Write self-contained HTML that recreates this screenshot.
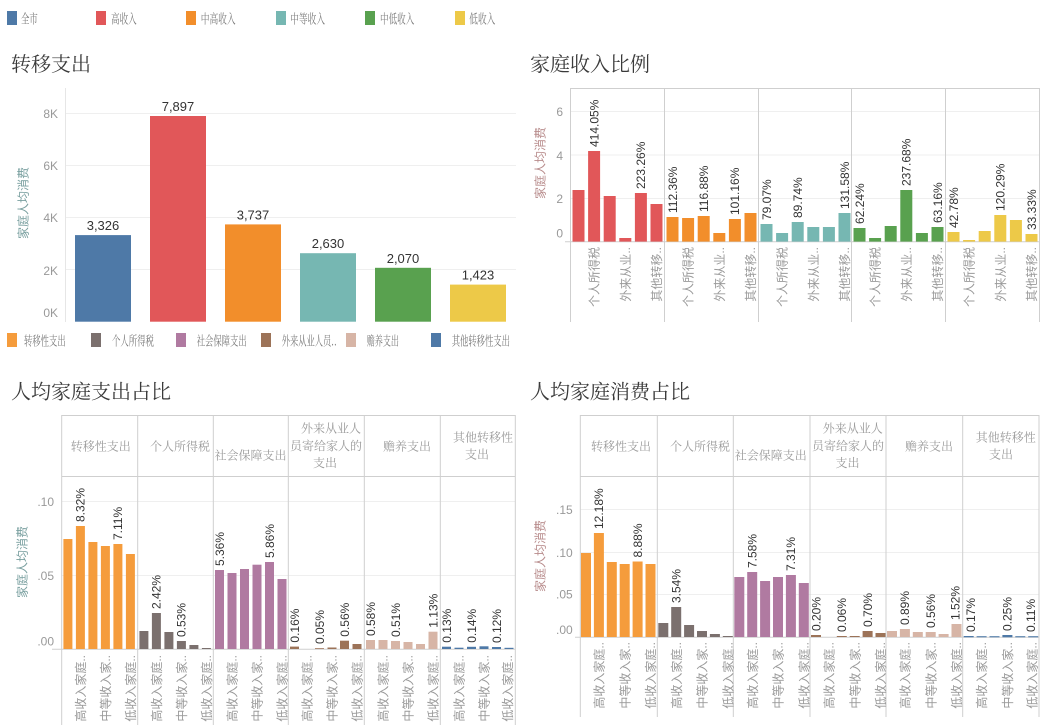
<!DOCTYPE html>
<html><head><meta charset="utf-8">
<style>
html,body{margin:0;padding:0;background:#fff;}
svg{display:block;}
.ttl{font-family:"Noto Serif CJK SC","Liberation Serif",serif;font-size:20px;fill:#3a3a3a;}
.lg{font-family:"Noto Serif CJK SC","Liberation Serif",serif;font-size:13px;fill:#777;}
.hd{font-family:"Noto Serif CJK SC","Liberation Serif",serif;font-size:12px;fill:#9a9a9a;}
.tk{font-family:"Liberation Sans",sans-serif;font-size:12px;fill:#999;}
.vl{font-family:"Liberation Sans",sans-serif;font-size:13px;fill:#333;}
.bl{font-family:"Liberation Sans",sans-serif;font-size:12px;fill:#333;}
.cat{font-family:"Liberation Sans","Noto Sans CJK SC",sans-serif;font-size:12px;fill:#9a9a9a;}
.yt1{font-family:"Liberation Sans","Noto Sans CJK SC",sans-serif;font-size:12px;fill:#7aa0a0;}
.yt2{font-family:"Liberation Sans","Noto Sans CJK SC",sans-serif;font-size:12px;fill:#b88c8c;}
</style></head>
<body>
<svg width="1048" height="725" viewBox="0 0 1048 725" xmlns="http://www.w3.org/2000/svg">
<rect width="1048" height="725" fill="#fff"/>

<!-- top legend -->
<rect x="7" y="11" width="10" height="14" fill="#4e79a7"/><text class="lg" x="21" y="23.5" textLength="16.7" lengthAdjust="spacingAndGlyphs">全市</text>
<rect x="96" y="11" width="10" height="14" fill="#e15759"/><text class="lg" x="111" y="23.5" textLength="25.7" lengthAdjust="spacingAndGlyphs">高收入</text>
<rect x="186" y="11" width="10" height="14" fill="#f28e2b"/><text class="lg" x="200.7" y="23.5" textLength="35" lengthAdjust="spacingAndGlyphs">中高收入</text>
<rect x="276" y="11" width="10" height="14" fill="#76b7b2"/><text class="lg" x="290.3" y="23.5" textLength="34.7" lengthAdjust="spacingAndGlyphs">中等收入</text>
<rect x="365" y="11" width="10" height="14" fill="#59a14f"/><text class="lg" x="380" y="23.5" textLength="34.3" lengthAdjust="spacingAndGlyphs">中低收入</text>
<rect x="455" y="11" width="10" height="14" fill="#edc948"/><text class="lg" x="469.3" y="23.5" textLength="26" lengthAdjust="spacingAndGlyphs">低收入</text>

<!-- ============ top-left: 转移支出 ============ -->
<text class="ttl" x="11" y="71">转移支出</text>
<g stroke="#efefef" stroke-width="1">
<line x1="65" y1="113.5" x2="516" y2="113.5"/>
<line x1="65" y1="165.5" x2="516" y2="165.5"/>
<line x1="65" y1="217.5" x2="516" y2="217.5"/>
<line x1="65" y1="269.5" x2="516" y2="269.5"/>
</g>
<line x1="65.5" y1="88" x2="65.5" y2="322" stroke="#e6e6e6"/>
<g class="tk" text-anchor="end">
<text x="58" y="118">8K</text>
<text x="58" y="170">6K</text>
<text x="58" y="222">4K</text>
<text x="58" y="275">2K</text>
<text x="58" y="317">0K</text>
</g>
<text class="yt1" transform="translate(27.5,203) rotate(-90)" text-anchor="middle">家庭人均消费</text>
<rect x="75" y="235.1" width="56" height="86.6" fill="#4e79a7"/>
<rect x="150" y="116" width="56" height="205.7" fill="#e15759"/>
<rect x="225" y="224.4" width="56" height="97.3" fill="#f28e2b"/>
<rect x="300" y="253.2" width="56" height="68.5" fill="#76b7b2"/>
<rect x="375" y="267.8" width="56" height="53.9" fill="#59a14f"/>
<rect x="450" y="284.6" width="56" height="37.1" fill="#edc948"/>
<g class="vl" text-anchor="middle">
<text x="103" y="230">3,326</text>
<text x="178" y="111">7,897</text>
<text x="253" y="219.4">3,737</text>
<text x="328" y="248.2">2,630</text>
<text x="403" y="262.8">2,070</text>
<text x="478" y="279.6">1,423</text>
</g>

<!-- ============ top-right: 家庭收入比例 ============ -->
<text class="ttl" x="530" y="71">家庭收入比例</text>
<g stroke="#efefef">
<line x1="570.5" y1="111.5" x2="1039" y2="111.5"/>
<line x1="570.5" y1="155" x2="1039" y2="155"/>
<line x1="570.5" y1="198.5" x2="1039" y2="198.5"/>
</g>
<g stroke="#cfcfcf">
<line x1="570.5" y1="88" x2="570.5" y2="322"/>
<line x1="570.5" y1="88.5" x2="1039.5" y2="88.5"/>
<line x1="664.5" y1="88" x2="664.5" y2="322"/>
<line x1="758.5" y1="88" x2="758.5" y2="322"/>
<line x1="851.5" y1="88" x2="851.5" y2="322"/>
<line x1="945.5" y1="88" x2="945.5" y2="322"/>
<line x1="1039.5" y1="88" x2="1039.5" y2="322"/>
<line x1="565" y1="241.8" x2="1039.5" y2="241.8"/>
</g>
<g class="tk" text-anchor="end">
<text x="563" y="116">6</text>
<text x="563" y="160">4</text>
<text x="563" y="203">2</text>
<text x="563" y="237.5">0</text>
</g>
<text class="yt2" transform="translate(544.6,163) rotate(-90)" text-anchor="middle">家庭人均消费</text>
<g fill="#e15759">
<rect x="572.5" y="190" width="12" height="51.6"/>
<rect x="588.1" y="151" width="12" height="90.6"/>
<rect x="603.7" y="196" width="12" height="45.6"/>
<rect x="619.3" y="238" width="12" height="3.6"/>
<rect x="634.9" y="193" width="12" height="48.6"/>
<rect x="650.5" y="204" width="12" height="37.6"/>
</g>
<g fill="#f28e2b">
<rect x="666.5" y="217" width="12" height="24.6"/>
<rect x="682.1" y="218" width="12" height="23.6"/>
<rect x="697.7" y="216" width="12" height="25.6"/>
<rect x="713.3" y="233" width="12" height="8.6"/>
<rect x="728.9" y="219" width="12" height="22.6"/>
<rect x="744.5" y="213" width="12" height="28.6"/>
</g>
<g fill="#76b7b2">
<rect x="760.5" y="224" width="12" height="17.6"/>
<rect x="776.1" y="233" width="12" height="8.6"/>
<rect x="791.7" y="222" width="12" height="19.6"/>
<rect x="807.3" y="227" width="12" height="14.6"/>
<rect x="822.9" y="227" width="12" height="14.6"/>
<rect x="838.5" y="213" width="12" height="28.6"/>
</g>
<g fill="#59a14f">
<rect x="853.5" y="228" width="12" height="13.6"/>
<rect x="869.1" y="238" width="12" height="3.6"/>
<rect x="884.7" y="226" width="12" height="15.6"/>
<rect x="900.3" y="190" width="12" height="51.6"/>
<rect x="915.9" y="233" width="12" height="8.6"/>
<rect x="931.5" y="227" width="12" height="14.6"/>
</g>
<g fill="#edc948">
<rect x="947.5" y="232" width="12" height="9.6"/>
<rect x="963.1" y="240" width="12" height="1.6"/>
<rect x="978.7" y="231" width="12" height="10.6"/>
<rect x="994.3" y="215" width="12" height="26.6"/>
<rect x="1009.9" y="220" width="12" height="21.6"/>
<rect x="1025.5" y="234" width="12" height="7.6"/>
</g>
<g class="bl">
<text transform="translate(598.4,147) rotate(-90)">414.05%</text>
<text transform="translate(645.2,189) rotate(-90)">223.26%</text>
<text transform="translate(676.8,213) rotate(-90)">112.36%</text>
<text transform="translate(708,212) rotate(-90)">116.88%</text>
<text transform="translate(739.2,215) rotate(-90)">101.16%</text>
<text transform="translate(770.8,220) rotate(-90)">79.07%</text>
<text transform="translate(802,218) rotate(-90)">89.74%</text>
<text transform="translate(848.8,209) rotate(-90)">131.58%</text>
<text transform="translate(863.8,224) rotate(-90)">62.24%</text>
<text transform="translate(910.6,186) rotate(-90)">237.68%</text>
<text transform="translate(941.8,223) rotate(-90)">63.16%</text>
<text transform="translate(957.8,228) rotate(-90)">42.78%</text>
<text transform="translate(1004.6,211) rotate(-90)">120.29%</text>
<text transform="translate(1035.8,230) rotate(-90)">33.33%</text>
</g>
<g class="cat" text-anchor="end">
<text transform="translate(598.7,247) rotate(-90)">个人所得税</text>
<text transform="translate(629.9,247) rotate(-90)">外来从业..</text>
<text transform="translate(661.1,247) rotate(-90)">其他转移..</text>
<text transform="translate(692.7,247) rotate(-90)">个人所得税</text>
<text transform="translate(723.9,247) rotate(-90)">外来从业..</text>
<text transform="translate(755.1,247) rotate(-90)">其他转移..</text>
<text transform="translate(786.7,247) rotate(-90)">个人所得税</text>
<text transform="translate(817.9,247) rotate(-90)">外来从业..</text>
<text transform="translate(849.1,247) rotate(-90)">其他转移..</text>
<text transform="translate(879.7,247) rotate(-90)">个人所得税</text>
<text transform="translate(910.9,247) rotate(-90)">外来从业..</text>
<text transform="translate(942.1,247) rotate(-90)">其他转移..</text>
<text transform="translate(973.7,247) rotate(-90)">个人所得税</text>
<text transform="translate(1004.9,247) rotate(-90)">外来从业..</text>
<text transform="translate(1036.1,247) rotate(-90)">其他转移..</text>
</g>

<!-- second legend -->
<rect x="7" y="333" width="10" height="14" fill="#f59c3c"/><text class="lg" x="24" y="345.5" textLength="41.7" lengthAdjust="spacingAndGlyphs">转移性支出</text>
<rect x="91" y="333" width="10" height="14" fill="#7b706e"/><text class="lg" x="112" y="345.5" textLength="42" lengthAdjust="spacingAndGlyphs">个人所得税</text>
<rect x="176" y="333" width="10" height="14" fill="#b07aa1"/><text class="lg" x="196.7" y="345.5" textLength="50" lengthAdjust="spacingAndGlyphs">社会保障支出</text>
<rect x="261" y="333" width="10" height="14" fill="#9c7358"/><text class="lg" x="281.7" y="345.5" textLength="55" lengthAdjust="spacingAndGlyphs">外来从业人员..</text>
<rect x="346" y="333" width="10" height="14" fill="#d7b5a6"/><text class="lg" x="366.7" y="345.5" textLength="32.3" lengthAdjust="spacingAndGlyphs">赡养支出</text>
<rect x="431" y="333" width="10" height="14" fill="#4e79a7"/><text class="lg" x="451.7" y="345.5" textLength="58.3" lengthAdjust="spacingAndGlyphs">其他转移性支出</text>

<!-- ============ bottom-left: 人均家庭支出占比 ============ -->
<text class="ttl" x="11" y="398.5">人均家庭支出占比</text>
<g stroke="#efefef">
<line x1="61.7" y1="501.5" x2="515" y2="501.5"/>
<line x1="61.7" y1="575.5" x2="515" y2="575.5"/>
</g>
<g stroke="#cfcfcf">
<line x1="61.7" y1="415.5" x2="515.5" y2="415.5"/>
<line x1="61.7" y1="476.5" x2="515.5" y2="476.5"/>
<line x1="61.7" y1="415" x2="61.7" y2="725"/>
<line x1="137.7" y1="415" x2="137.7" y2="725"/>
<line x1="213.3" y1="415" x2="213.3" y2="725"/>
<line x1="288.3" y1="415" x2="288.3" y2="725"/>
<line x1="364.3" y1="415" x2="364.3" y2="725"/>
<line x1="440.3" y1="415" x2="440.3" y2="725"/>
<line x1="515.3" y1="415" x2="515.3" y2="725"/>
<line x1="52" y1="649.3" x2="515.5" y2="649.3"/>
</g>
<g class="hd" text-anchor="middle">
<text x="100.8" y="450.5">转移性支出</text>
<text x="180" y="450.5">个人所得税</text>
<text x="250.5" y="459.5">社会保障支出</text>
<text x="331" y="432.5">外来从业人</text>
<text x="326" y="450">员寄给家人的</text>
<text x="325" y="467">支出</text>
<text x="407" y="450.5">赡养支出</text>
<text x="483" y="441.3">其他转移性</text>
<text x="477" y="458.6">支出</text>
</g>
<g class="tk" text-anchor="end">
<text x="54" y="506">.10</text>
<text x="54" y="580">.05</text>
<text x="54" y="645.5">.00</text>
</g>
<text class="yt1" transform="translate(26.6,562) rotate(-90)" text-anchor="middle">家庭人均消费</text>
<g fill="#f59c3c">
<rect x="63.4" y="539" width="9" height="110"/>
<rect x="75.9" y="526" width="9" height="123"/>
<rect x="88.4" y="542" width="9" height="107"/>
<rect x="100.9" y="546" width="9" height="103"/>
<rect x="113.4" y="544" width="9" height="105"/>
<rect x="125.9" y="554" width="9" height="95"/>
</g>
<g fill="#7b706e">
<rect x="139.4" y="631" width="9" height="18"/>
<rect x="151.9" y="613" width="9" height="36"/>
<rect x="164.4" y="632" width="9" height="17"/>
<rect x="176.9" y="641" width="9" height="8"/>
<rect x="189.4" y="645" width="9" height="4"/>
<rect x="201.9" y="648" width="9" height="1"/>
</g>
<g fill="#b07aa1">
<rect x="215" y="570" width="9" height="79"/>
<rect x="227.5" y="573" width="9" height="76"/>
<rect x="240" y="569" width="9" height="80"/>
<rect x="252.5" y="564.7" width="9" height="84.3"/>
<rect x="265" y="562" width="9" height="87"/>
<rect x="277.5" y="579" width="9" height="70"/>
</g>
<g fill="#9c7358">
<rect x="290" y="646.6" width="9" height="2.4"/>
<rect x="315" y="648.2" width="9" height="0.8"/>
<rect x="327.5" y="647.5" width="9" height="1.5"/>
<rect x="340" y="640.7" width="9" height="8.3"/>
<rect x="352.5" y="644" width="9" height="5"/>
</g>
<g fill="#d7b5a6">
<rect x="366" y="640" width="9" height="9"/>
<rect x="378.5" y="640" width="9" height="9"/>
<rect x="391" y="641" width="9" height="8"/>
<rect x="403.5" y="642" width="9" height="7"/>
<rect x="416" y="644" width="9" height="5"/>
<rect x="428.5" y="631.7" width="9" height="17.3"/>
</g>
<g fill="#4e79a7">
<rect x="442" y="646.7" width="9" height="2.3"/>
<rect x="454.5" y="647.7" width="9" height="1.3"/>
<rect x="467" y="646.8" width="9" height="2.2"/>
<rect x="479.5" y="646.3" width="9" height="2.7"/>
<rect x="492" y="647" width="9" height="2"/>
<rect x="504.5" y="647.8" width="9" height="1.2"/>
</g>
<g class="bl">
<text transform="translate(84.7,522) rotate(-90)">8.32%</text>
<text transform="translate(122.2,540) rotate(-90)">7.11%</text>
<text transform="translate(160.7,609) rotate(-90)">2.42%</text>
<text transform="translate(185.7,637) rotate(-90)">0.53%</text>
<text transform="translate(223.8,566) rotate(-90)">5.36%</text>
<text transform="translate(273.8,558) rotate(-90)">5.86%</text>
<text transform="translate(298.8,642.6) rotate(-90)">0.16%</text>
<text transform="translate(323.8,644) rotate(-90)">0.05%</text>
<text transform="translate(348.8,636.7) rotate(-90)">0.56%</text>
<text transform="translate(374.8,636) rotate(-90)">0.58%</text>
<text transform="translate(399.8,637) rotate(-90)">0.51%</text>
<text transform="translate(437.3,627.7) rotate(-90)">1.13%</text>
<text transform="translate(450.8,642.7) rotate(-90)">0.13%</text>
<text transform="translate(475.8,642.8) rotate(-90)">0.14%</text>
<text transform="translate(500.8,643) rotate(-90)">0.12%</text>
</g>
<g class="cat" text-anchor="end">
<text transform="translate(85,655) rotate(-90)">高收入家庭..</text>
<text transform="translate(110,655) rotate(-90)">中等收入家..</text>
<text transform="translate(135,655) rotate(-90)">低收入家庭..</text>
<text transform="translate(161,655) rotate(-90)">高收入家庭..</text>
<text transform="translate(186,655) rotate(-90)">中等收入家..</text>
<text transform="translate(211,655) rotate(-90)">低收入家庭..</text>
<text transform="translate(236.6,655) rotate(-90)">高收入家庭..</text>
<text transform="translate(261.6,655) rotate(-90)">中等收入家..</text>
<text transform="translate(286.6,655) rotate(-90)">低收入家庭..</text>
<text transform="translate(311.6,655) rotate(-90)">高收入家庭..</text>
<text transform="translate(336.6,655) rotate(-90)">中等收入家..</text>
<text transform="translate(361.6,655) rotate(-90)">低收入家庭..</text>
<text transform="translate(387.6,655) rotate(-90)">高收入家庭..</text>
<text transform="translate(412.6,655) rotate(-90)">中等收入家..</text>
<text transform="translate(437.6,655) rotate(-90)">低收入家庭..</text>
<text transform="translate(463.6,655) rotate(-90)">高收入家庭..</text>
<text transform="translate(488.6,655) rotate(-90)">中等收入家..</text>
<text transform="translate(512,655) rotate(-90)">低收入家庭..</text>
</g>

<!-- ============ bottom-right: 人均家庭消费占比 ============ -->
<text class="ttl" x="530" y="398.5">人均家庭消费占比</text>
<g stroke="#efefef">
<line x1="580" y1="509.5" x2="1039" y2="509.5"/>
<line x1="580" y1="552.5" x2="1039" y2="552.5"/>
<line x1="580" y1="594.5" x2="1039" y2="594.5"/>
</g>
<g stroke="#cfcfcf">
<line x1="580" y1="415.5" x2="1039.5" y2="415.5"/>
<line x1="580" y1="476.5" x2="1039.5" y2="476.5"/>
<line x1="580.3" y1="415" x2="580.3" y2="717"/>
<line x1="657.3" y1="415" x2="657.3" y2="717"/>
<line x1="733.3" y1="415" x2="733.3" y2="717"/>
<line x1="810" y1="415" x2="810" y2="717"/>
<line x1="886" y1="415" x2="886" y2="717"/>
<line x1="962.7" y1="415" x2="962.7" y2="717"/>
<line x1="1039" y1="415" x2="1039" y2="717"/>
<line x1="575" y1="637.3" x2="1039.5" y2="637.3"/>
</g>
<g class="hd" text-anchor="middle">
<text x="621" y="450.3">转移性支出</text>
<text x="700" y="450.3">个人所得税</text>
<text x="770.7" y="459.6">社会保障支出</text>
<text x="852.8" y="432.5">外来从业人</text>
<text x="848" y="450">员寄给家人的</text>
<text x="847.5" y="467">支出</text>
<text x="929" y="450.3">赡养支出</text>
<text x="1005.8" y="441.3">其他转移性</text>
<text x="1001" y="458.6">支出</text>
</g>
<g class="tk" text-anchor="end">
<text x="572.7" y="514">.15</text>
<text x="572.7" y="557">.10</text>
<text x="572.7" y="598.5">.05</text>
<text x="572.7" y="634">.00</text>
</g>
<text class="yt2" transform="translate(544.6,556) rotate(-90)" text-anchor="middle">家庭人均消费</text>
<g fill="#f59c3c">
<rect x="581" y="553" width="10" height="84"/>
<rect x="593.9" y="533" width="10" height="104"/>
<rect x="606.8" y="562" width="10" height="75"/>
<rect x="619.7" y="564" width="10" height="73"/>
<rect x="632.6" y="561.5" width="10" height="75.5"/>
<rect x="645.5" y="564" width="10" height="73"/>
</g>
<g fill="#7b706e">
<rect x="658.3" y="623" width="10" height="14"/>
<rect x="671.2" y="607" width="10" height="30"/>
<rect x="684.1" y="625" width="10" height="12"/>
<rect x="697" y="631" width="10" height="6"/>
<rect x="709.9" y="634" width="10" height="3"/>
<rect x="722.8" y="636" width="10" height="1"/>
</g>
<g fill="#b07aa1">
<rect x="734.3" y="577" width="10" height="60"/>
<rect x="747.2" y="572" width="10" height="65"/>
<rect x="760.1" y="581" width="10" height="56"/>
<rect x="773" y="577" width="10" height="60"/>
<rect x="785.9" y="575" width="10" height="62"/>
<rect x="798.8" y="583" width="10" height="54"/>
</g>
<g fill="#9c7358">
<rect x="811" y="635" width="10" height="2"/>
<rect x="836.8" y="636" width="10" height="1"/>
<rect x="849.7" y="636" width="10" height="1"/>
<rect x="862.6" y="631" width="10" height="6"/>
<rect x="875.5" y="633" width="10" height="4"/>
</g>
<g fill="#d7b5a6">
<rect x="887" y="631" width="10" height="6"/>
<rect x="899.9" y="629" width="10" height="8"/>
<rect x="912.8" y="632" width="10" height="5"/>
<rect x="925.7" y="632" width="10" height="5"/>
<rect x="938.6" y="634" width="10" height="3"/>
<rect x="951.5" y="624" width="10" height="13"/>
</g>
<g fill="#4e79a7">
<rect x="963.7" y="636" width="10" height="1.3"/>
<rect x="976.6" y="636.2" width="10" height="1.1"/>
<rect x="989.5" y="636.2" width="10" height="1.1"/>
<rect x="1002.4" y="635" width="10" height="2.3"/>
<rect x="1015.3" y="636.2" width="10" height="1.1"/>
<rect x="1028.2" y="636.2" width="10" height="1.1"/>
</g>
<g class="bl">
<text transform="translate(603.2,529) rotate(-90)">12.18%</text>
<text transform="translate(641.9,557.5) rotate(-90)">8.88%</text>
<text transform="translate(680.5,603) rotate(-90)">3.54%</text>
<text transform="translate(756.5,568) rotate(-90)">7.58%</text>
<text transform="translate(795.2,571) rotate(-90)">7.31%</text>
<text transform="translate(820.3,631) rotate(-90)">0.20%</text>
<text transform="translate(846.1,632) rotate(-90)">0.06%</text>
<text transform="translate(871.9,627) rotate(-90)">0.70%</text>
<text transform="translate(909.2,625) rotate(-90)">0.89%</text>
<text transform="translate(935,628) rotate(-90)">0.56%</text>
<text transform="translate(959.5,620) rotate(-90)">1.52%</text>
<text transform="translate(975,632) rotate(-90)">0.17%</text>
<text transform="translate(1011.5,631) rotate(-90)">0.25%</text>
<text transform="translate(1035,632) rotate(-90)">0.11%</text>
</g>
<g class="cat" text-anchor="end">
<text transform="translate(603.5,642) rotate(-90)">高收入家庭..</text>
<text transform="translate(629.3,642) rotate(-90)">中等收入家..</text>
<text transform="translate(655.1,642) rotate(-90)">低收入家庭..</text>
<text transform="translate(680.8,642) rotate(-90)">高收入家庭..</text>
<text transform="translate(706.6,642) rotate(-90)">中等收入家..</text>
<text transform="translate(732.4,642) rotate(-90)">低收入家庭..</text>
<text transform="translate(756.8,642) rotate(-90)">高收入家庭..</text>
<text transform="translate(782.6,642) rotate(-90)">中等收入家..</text>
<text transform="translate(808.4,642) rotate(-90)">低收入家庭..</text>
<text transform="translate(833.5,642) rotate(-90)">高收入家庭..</text>
<text transform="translate(859.3,642) rotate(-90)">中等收入家..</text>
<text transform="translate(885.1,642) rotate(-90)">低收入家庭..</text>
<text transform="translate(909.5,642) rotate(-90)">高收入家庭..</text>
<text transform="translate(935.3,642) rotate(-90)">中等收入家..</text>
<text transform="translate(961.1,642) rotate(-90)">低收入家庭..</text>
<text transform="translate(986.2,642) rotate(-90)">高收入家庭..</text>
<text transform="translate(1012,642) rotate(-90)">中等收入家..</text>
<text transform="translate(1036.5,642) rotate(-90)">低收入家庭..</text>
</g>
</svg>
</body></html>
